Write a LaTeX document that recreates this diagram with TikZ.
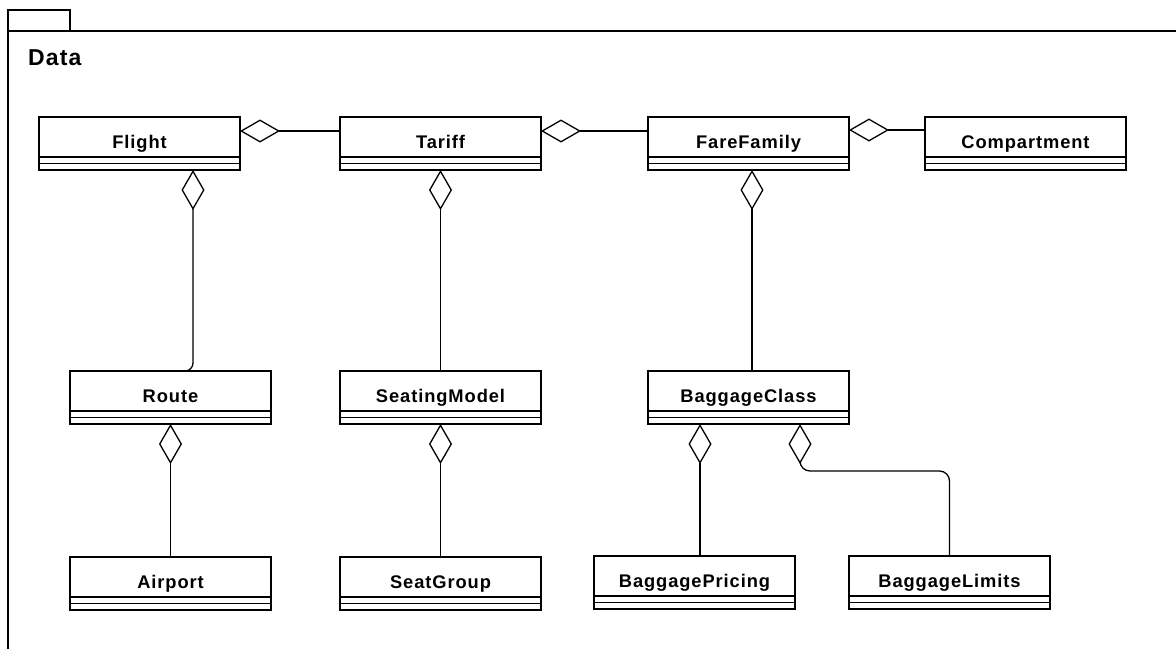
\documentclass[tikz,border=0pt]{standalone}
\usepackage{fontspec}
\setmainfont{Liberation Sans}
\newfontfamily\clsfont[LetterSpace=5.0]{Liberation Sans}
\usetikzlibrary{arrows.meta}
\begin{document}
\begin{tikzpicture}[x=1pt,y=-1pt,
  cls/.style={draw, line width=1.3pt, anchor=north west, outer sep=0pt,
    minimum width=201pt, minimum height=53pt, inner sep=0pt,
    text height=31pt, text depth=22pt,
    font=\clsfont\bfseries\fontsize{18.3}{20}\selectfont,
    path picture={
      \draw[line width=1.3pt] ([yshift=13pt]path picture bounding box.south west) -- ([yshift=13pt]path picture bounding box.south east);
      \draw[line width=1.3pt] ([yshift=6.5pt]path picture bounding box.south west) -- ([yshift=6.5pt]path picture bounding box.south east);
    }},
  agg/.style={line width=1.3pt, line join=miter, {Diamond[open,length=40pt,width=23pt]}-},
  frm/.style={line width=1.3pt}]
\useasboundingbox (0,0) rectangle (1176,649);
% package frame
\draw[frm] (8,10) rectangle (70,31);
\draw[frm] (8,649) -- (8,31) -- (1176,31);
\node[anchor=base west, inner sep=0pt, font=\clsfont\bfseries\fontsize{23}{26}\selectfont] (title) at (28,65) {Data};
% classes
\node[cls] (flight) at (39,117) {Flight};
\node[cls] (tariff) at (340,117) {Tariff};
\node[cls] (farefamily) at (648,117) {FareFamily};
\node[cls] (compartment) at (925,117) {Compartment};
\node[cls] (route) at (70,371) {Route};
\node[cls] (seatingmodel) at (340,371) {SeatingModel};
\node[cls] (baggageclass) at (648,371) {BaggageClass};
\node[cls] (airport) at (70,557) {Airport};
\node[cls] (seatgroup) at (340,557) {SeatGroup};
\node[cls] (pricing) at (594,556) {BaggagePricing};
\node[cls] (limits) at (849,556) {BaggageLimits};
% aggregations
\draw[agg] ([yshift=-14pt]flight.north east) -- ([yshift=-14pt]tariff.north west);
\draw[agg] ([yshift=-14pt]tariff.north east) -- ([yshift=-14pt]farefamily.north west);
\draw[agg] ([yshift=-13pt]farefamily.north east) -- ([yshift=-13pt]compartment.north west);
\draw[agg, rounded corners=8pt] ([xshift=154pt]flight.south west) |- ([xshift=115pt]route.north west);
\draw[agg] (tariff.south) -- (seatingmodel.north);
\draw[agg] ([xshift=104pt]farefamily.south west) -- ([xshift=104pt]baggageclass.north west);
\draw[agg] (route.south) -- (airport.north);
\draw[agg] (seatingmodel.south) -- (seatgroup.north);
\draw[agg] ([xshift=52pt]baggageclass.south west) -- ([xshift=106pt]pricing.north west);
\draw[agg, rounded corners=10pt] ([xshift=152pt]baggageclass.south west) -- ++(0,47) -| (limits.north);
\end{tikzpicture}
\end{document}
